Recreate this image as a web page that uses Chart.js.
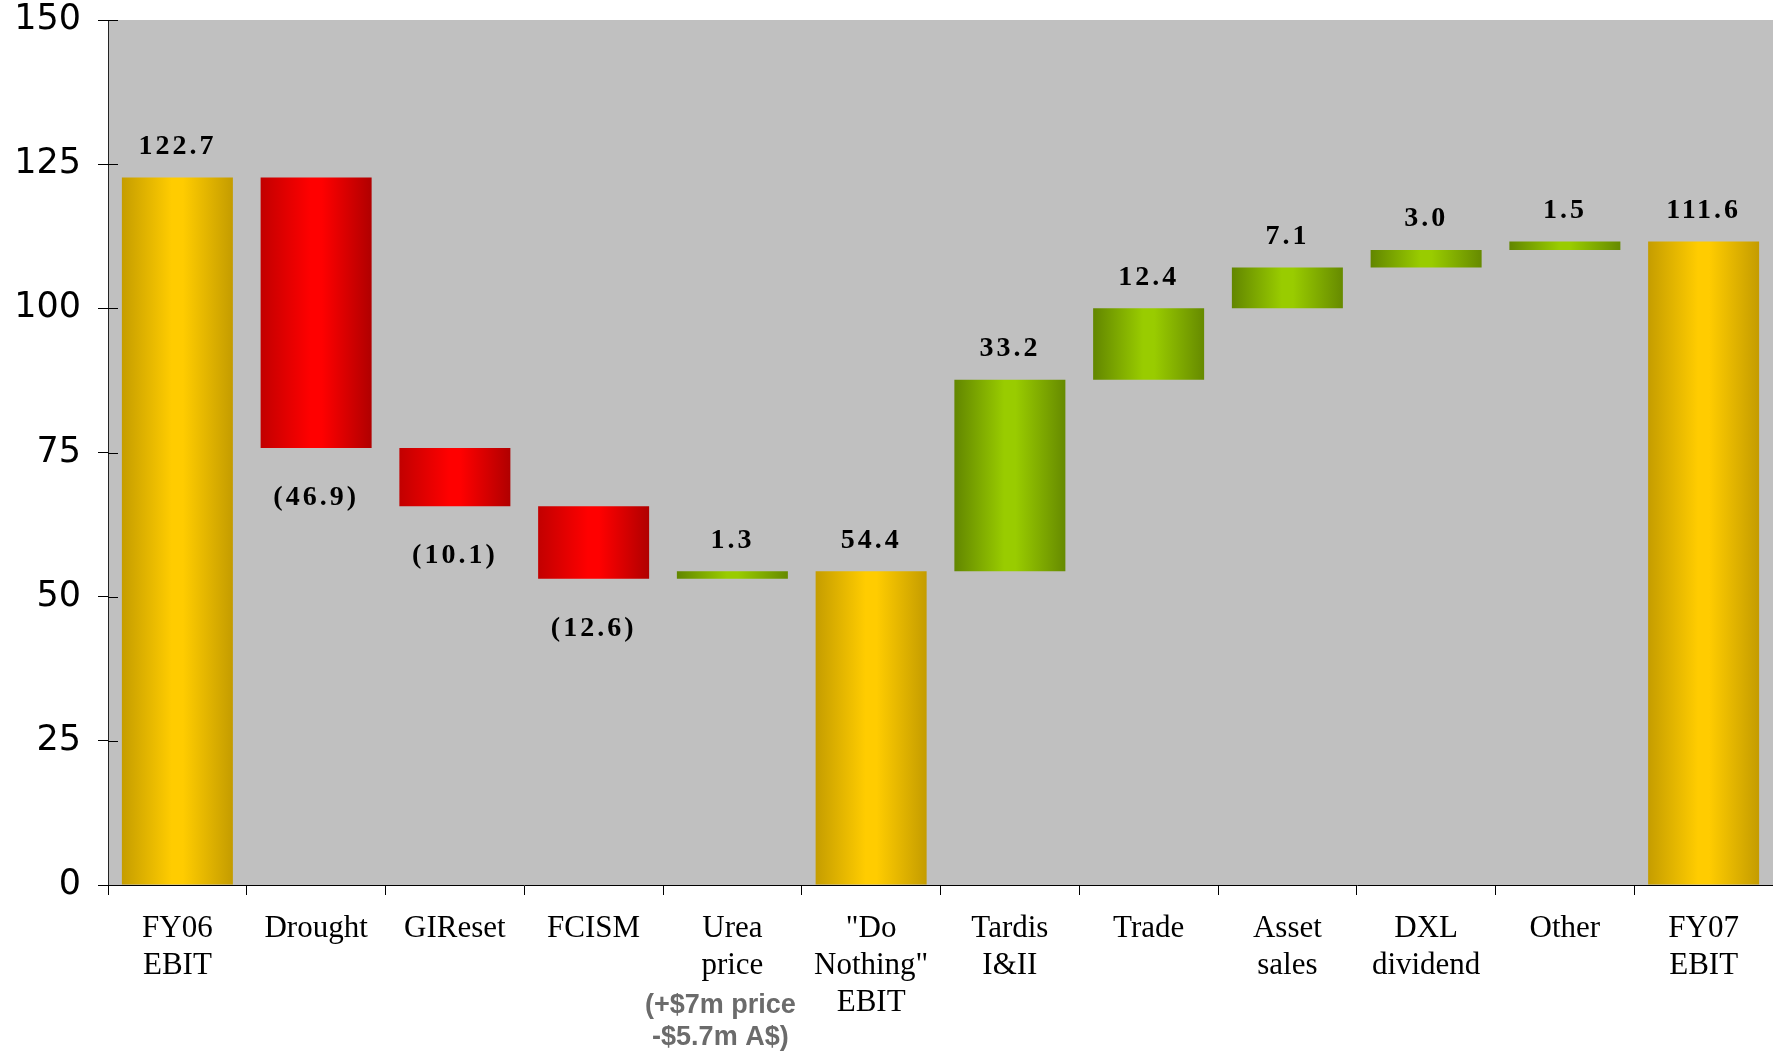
<!DOCTYPE html>
<html>
<head>
<meta charset="utf-8">
<title>EBIT bridge FY06 - FY07</title>
<script src="https://cdn.jsdelivr.net/npm/chart.js@4.4.1/dist/chart.umd.min.js"></script>
<style>
  html, body { margin: 0; padding: 0; background: #fff; }
</style>
</head>
<body>
<canvas id="bridge" width="1773" height="1053"></canvas>
<script>
// ---- data ----
const categories = [
  ['FY06', 'EBIT'], ['Drought'], ['GIReset'], ['FCISM'], ['Urea', 'price'],
  ['"Do', 'Nothing"', 'EBIT'], ['Tardis', 'I&II'], ['Trade'], ['Asset', 'sales'],
  ['DXL', 'dividend'], ['Other'], ['FY07', 'EBIT']
];
const steps = [122.7, -46.9, -10.1, -12.6, 1.3, 54.4, 33.2, 12.4, 7.1, 3.0, 1.5, 111.6];
const kinds = ['total', 'down', 'down', 'down', 'up', 'total', 'up', 'up', 'up', 'up', 'up', 'total'];
const yTicks = [0, 25, 50, 75, 100, 125, 150];
const ureaNote = ['(+$7m price', '-$5.7m A$)'];

// running level -> floating [from, to] bars
let level = 0;
const bars = steps.map((v, i) => {
  if (kinds[i] === 'total') { level = v; return [0, v]; }
  const from = level;
  level = +(level + v).toFixed(1);
  return [Math.min(from, level), Math.max(from, level)];
});

// edge / centre / edge colours of the cylinder-like shading
const shades = {
  total: ['#c59d00', '#ffcc00', '#c49c00'],
  down:  ['#c20000', '#ff0000', '#b00000'],
  up:    ['#628600', '#99cc00', '#668a00']
};

function barFill(c) {
  const chart = c.chart, x = chart.scales.x;
  const s = shades[kinds[c.dataIndex]];
  if (!chart.chartArea || !x) return s[1];
  const mid = x.getPixelForValue(c.dataIndex);
  const half = x.width / categories.length * 0.8 / 2;
  const g = chart.ctx.createLinearGradient(mid - half, 0, mid + half, 0);
  g.addColorStop(0, s[0]);
  g.addColorStop(0.45, s[1]);
  g.addColorStop(0.55, s[1]);
  g.addColorStop(1, s[2]);
  return g;
}

const plotBackground = {
  id: 'plotBackground',
  beforeDraw(chart) {
    const { ctx, chartArea: a } = chart;
    ctx.save();
    ctx.fillStyle = '#c0c0c0';
    ctx.fillRect(a.left, a.top, a.right - a.left, a.bottom - a.top);
    ctx.restore();
  }
};

// tick marks on the y axis cross into the plot as well
const innerTicks = {
  id: 'innerTicks',
  afterDraw(chart) {
    const { ctx, chartArea: a, scales: { y } } = chart;
    ctx.save();
    ctx.strokeStyle = '#000';
    ctx.lineWidth = 1;
    yTicks.forEach(v => {
      const py = Math.round(y.getPixelForValue(v)) + 0.5;
      ctx.beginPath();
      ctx.moveTo(a.left, py);
      ctx.lineTo(a.left + 10, py);
      ctx.stroke();
    });
    ctx.restore();
  }
};

const valueLabels = {
  id: 'valueLabels',
  afterDatasetsDraw(chart) {
    const { ctx } = chart;
    const meta = chart.getDatasetMeta(0);
    ctx.save();
    ctx.font = 'bold 28px "Liberation Serif", "Times New Roman", serif';
    ctx.fillStyle = '#000';
    ctx.textAlign = 'center';
    ctx.textBaseline = 'middle';
    ctx.letterSpacing = '3px';
    meta.data.forEach((bar, i) => {
      const v = steps[i];
      const top = Math.min(bar.y, bar.base), bottom = Math.max(bar.y, bar.base);
      if (v < 0) ctx.fillText('(' + Math.abs(v).toFixed(1) + ')', bar.x, bottom + 50);
      else ctx.fillText(v.toFixed(1), bar.x, top - 31);
    });
    ctx.restore();
  }
};

// grey note under the Urea price category
const ureaCaption = {
  id: 'ureaCaption',
  afterDraw(chart) {
    const { ctx, scales: { x } } = chart;
    const cx = x.getPixelForValue(4) - 12;
    ctx.save();
    ctx.font = 'bold 27px "Liberation Sans", Arial, sans-serif';
    ctx.fillStyle = '#6b6b6b';
    ctx.textAlign = 'center';
    ctx.textBaseline = 'middle';
    ureaNote.forEach((t, k) => ctx.fillText(t, cx, x.top + 121 + k * 32));
    ctx.restore();
  }
};

new Chart(document.getElementById('bridge'), {
  type: 'bar',
  data: {
    labels: categories,
    datasets: [{
      data: bars,
      backgroundColor: barFill,
      borderWidth: 0,
      barPercentage: 0.8,
      categoryPercentage: 1.0
    }]
  },
  options: {
    responsive: false,
    devicePixelRatio: 1,
    animation: false,
    layout: { padding: { top: 20, right: 0, bottom: 0, left: 0 } },
    plugins: { legend: { display: false }, tooltip: { enabled: false } },
    scales: {
      x: {
        grid: { drawOnChartArea: false, tickLength: 10, color: '#000', offset: true },
        border: { color: '#000', width: 1 },
        ticks: {
          color: '#000',
          autoSkip: false,
          maxRotation: 0,
          padding: 15,
          font: { family: '"Liberation Serif", "Times New Roman", serif', size: 31, lineHeight: 1.2 }
        },
        afterFit(s) { s.height = 168; }
      },
      y: {
        min: 0,
        max: 150,
        grid: { drawOnChartArea: false, tickLength: 10, color: '#000' },
        border: { color: '#222', width: 1 },
        ticks: {
          color: '#000',
          padding: 17,
          font: { family: '"DejaVu Sans", Verdana, sans-serif', size: 35 }
        },
        afterBuildTicks(s) { s.ticks = yTicks.map(v => ({ value: v })); },
        afterFit(s) {
          s.width = 108;
          s.paddingTop = 0;
          s.paddingBottom = 0;
        }
      }
    }
  },
  plugins: [plotBackground, innerTicks, valueLabels, ureaCaption]
});
</script>
</body>
</html>
